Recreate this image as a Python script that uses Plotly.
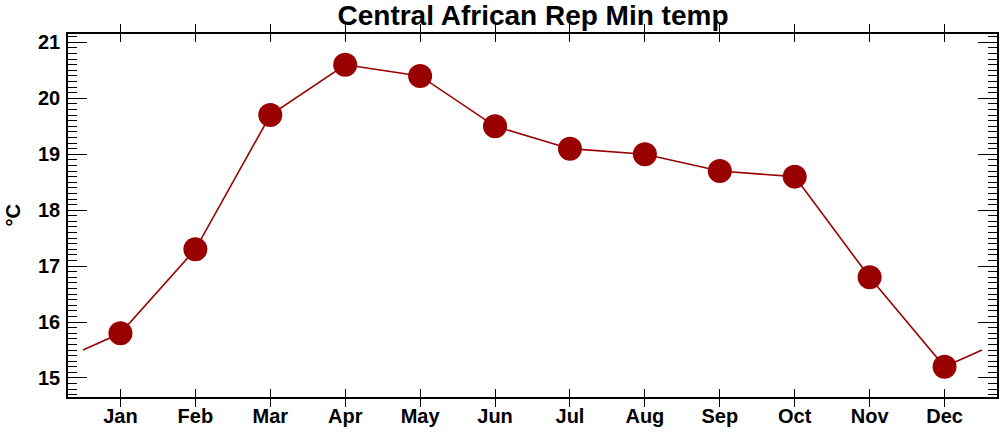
import plotly.graph_objects as go

months = ["Jan", "Feb", "Mar", "Apr", "May", "Jun", "Jul", "Aug", "Sep", "Oct", "Nov", "Dec"]
min_temp = [15.8, 17.3, 19.7, 20.6, 20.4, 19.5, 19.1, 19.0, 18.7, 18.6, 16.8, 15.2]

idx = list(range(1, len(months) + 1))
wrap = (min_temp[0] + min_temp[-1]) / 2
line_x = [0.5] + idx + [len(months) + 0.5]
line_y = [wrap] + min_temp + [wrap]

color = "#990000"
fam = "Liberation Sans, Arial, sans-serif"
font = dict(family=fam, size=20, color="black", weight="bold")
yrange = [14.66, 21.15]

W, H = 1000, 432

fig = go.Figure()
fig.add_trace(go.Scatter(x=line_x, y=line_y, mode="lines",
                         line=dict(color=color, width=1.6), hoverinfo="skip", showlegend=False))
fig.add_trace(go.Scatter(x=idx, y=min_temp, mode="markers",
                         marker=dict(color=color, size=24, line=dict(width=0)), showlegend=False))
fig.add_trace(go.Scatter(x=[idx[0]], y=[min_temp[0]], yaxis="y2", mode="markers",
                         marker=dict(opacity=0), hoverinfo="skip", showlegend=False))

fig.update_layout(
    width=W, height=H,
    margin=dict(l=68, r=3, t=34, b=35),
    paper_bgcolor="white", plot_bgcolor="white",
    title=dict(text="Central African Rep Min temp", x=533 / W, xanchor="center", y=1 - 15 / H, yanchor="middle",
               font=dict(family=fam, size=28, color="black", weight="bold")),
    font=font,
    annotations=[dict(text="°C", textangle=-90, xref="paper", yref="paper", x=0, y=0.5,
                      xanchor="center", yanchor="middle", xshift=-56, showarrow=False, font=font)],
)
fig.update_xaxes(range=[0.3, 12.7], tickmode="array", tickvals=idx, ticktext=months,
                 ticks="inside", ticklen=8, tickwidth=1.2, tickcolor="black",
                 showline=True, linecolor="black", linewidth=1.5, mirror="allticks",
                 showgrid=False, zeroline=False, tickfont=font, automargin=False)
yaxis_common = dict(range=yrange, tickmode="linear", tick0=15, dtick=1,
                    ticks="inside", ticklen=19, tickwidth=1.2, tickcolor="black",
                    minor=dict(dtick=0.1, tick0=15, ticks="inside", ticklen=9, tickwidth=1.2,
                               tickcolor="black", showgrid=False),
                    showgrid=False, zeroline=False, automargin=False)
fig.update_layout(
    yaxis=dict(**yaxis_common, showline=True, linecolor="black", linewidth=1.5, mirror=True,
               tickfont=font, ticklabelstandoff=2),
    yaxis2=dict(**yaxis_common, overlaying="y", side="right", showticklabels=False, showline=False),
)

# remove the page's default 8px body margin so the figure fills the window exactly
fig.write_html("out.html", config={"displayModeBar": False},
               post_script="document.body.style.margin='0';document.body.style.overflow='hidden';")
